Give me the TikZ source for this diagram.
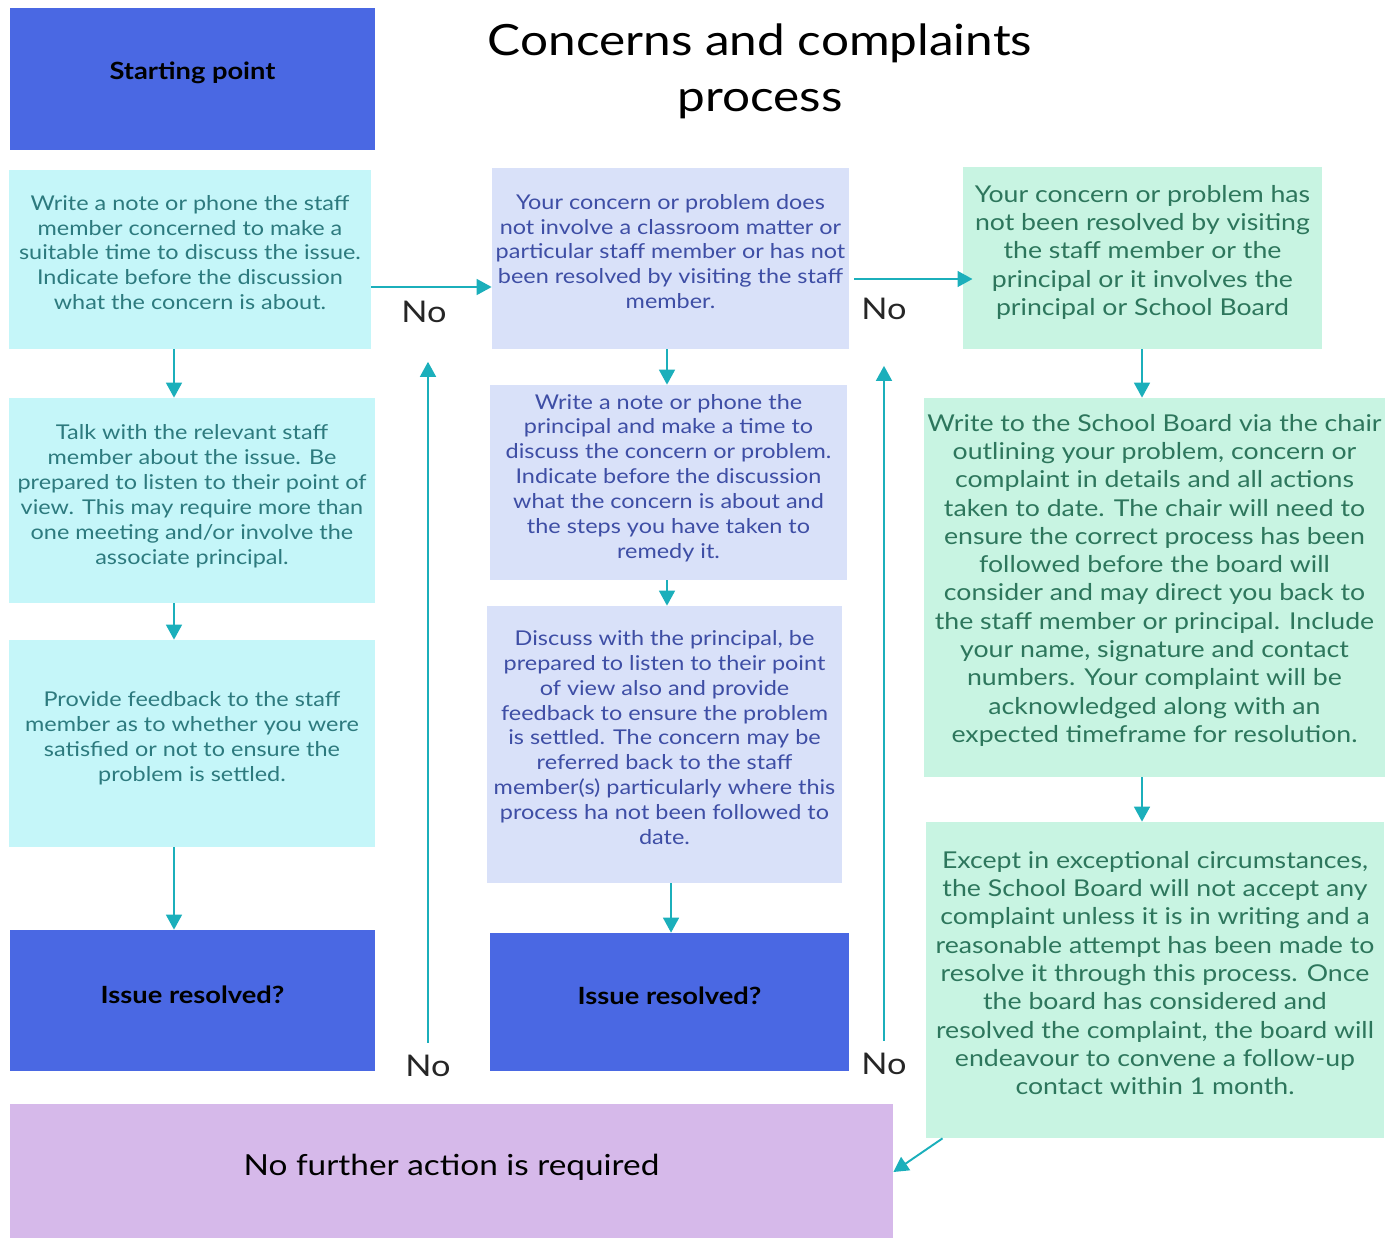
\documentclass[tikz,border=0pt]{standalone}
\usepackage{fontspec}
\setmainfont{Lato}[FakeStretch=1.15]
\usetikzlibrary{arrows.meta}

\definecolor{keyblue}{RGB}{74,104,227}
\definecolor{stepcyan}{RGB}{197,246,249}
\definecolor{steplav}{RGB}{217,225,249}
\definecolor{stepmint}{RGB}{200,244,226}
\definecolor{endpurple}{RGB}{214,185,234}
\definecolor{arrowteal}{RGB}{27,175,187}
\definecolor{tealtext}{RGB}{45,122,126}
\definecolor{lavtext}{RGB}{62,78,165}
\definecolor{minttext}{RGB}{45,118,92}

\def\px{0.02cm}

\tikzset{
  box/.style 2 args={rectangle, inner sep=2pt, align=center, text depth=8pt,
    minimum width=#1*\px, minimum height=#2*\px},
  keybox/.style={fill=keyblue, font=\fontsize{13.5}{16}\selectfont\bfseries},
  colA/.style={fill=stepcyan, text=tealtext, font=\fontsize{11.6}{14.2}\selectfont},
  colB/.style={fill=steplav, text=lavtext, font=\fontsize{11.6}{14.2}\selectfont},
  colC/.style={fill=stepmint, text=minttext, font=\fontsize{13.2}{16.1}\selectfont},
  nolabel/.style={inner sep=0pt, text=black!85, font=\fontsize{17}{19}\selectfont},
  arr/.style={-{Triangle[width=9pt,length=8.5pt]}, line width=1.1pt, draw=arrowteal},
}

\begin{document}
\begin{tikzpicture}[x=0.02cm, y=-0.02cm]
\useasboundingbox (0,0) rectangle (1400,1238);

% title
\node[align=center, font=\fontsize{24.5}{32}\selectfont] (title) at (760,71)
  {Concerns and complaints\\process};

% first column
\node[box={365}{142}, keybox, text depth=9.3pt] (start) at (192.5,79) {Starting point};
\node[box={362}{179}, colA] (a1) at (190,259.5)
  {Write a note or phone the staff\\member concerned to make a\\suitable time to discuss the issue.\\Indicate before the discussion\\what the concern is about.};
\node[box={366}{205}, colA, text depth=7pt] (a2) at (192,500.5)
  {Talk with the relevant staff\\member about the issue. Be\\prepared to listen to their point of\\view. This may require more than\\one meeting and/or involve the\\associate principal.};
\node[box={366}{207}, colA] (a3) at (192,743.5)
  {Provide feedback to the staff\\member as to whether you were\\satisfied or not to ensure the\\problem is settled.};
\node[box={365}{141}, keybox, text depth=7pt] (ira) at (192.5,1000.5) {Issue resolved?};

% second column
\node[box={357}{181}, colB] (b1) at (670.5,258.5)
  {Your concern or problem does\\not involve a classroom matter or\\particular staff member or has not\\been resolved by visiting the staff\\member.};
\node[box={357}{195}, colB, text depth=7pt] (b2) at (668.5,482.5)
  {Write a note or phone the\\principal and make a time to\\discuss the concern or problem.\\Indicate before the discussion\\what the concern is about and\\the steps you have taken to\\remedy it.};
\node[box={355}{277}, colB] (b3) at (664.5,744.5)
  {Discuss with the principal, be\\prepared to listen to their point\\of view also and provide\\feedback to ensure the problem\\is settled. The concern may be\\referred back to the staff\\member(s) particularly where this\\process ha not been followed to\\date.};
\node[box={359}{138}, keybox, text depth=7pt] (irb) at (669.5,1002) {Issue resolved?};

% third column
\node[box={359}{182}, colC, text depth=8.6pt] (c1) at (1142.5,258)
  {Your concern or problem has\\not been resolved by visiting\\the staff member or the\\principal or it involves the\\principal or School Board};
\node[box={459}{379}, colC, text depth=10.5pt] (c2) at (1154.5,587.5)
  {Write to the School Board via the chair\\outlining your problem, concern or\\complaint in details and all actions\\taken to date. The chair will need to\\ensure the correct process has been\\followed before the board will\\consider and may direct you back to\\the staff member or principal. Include\\your name, signature and contact\\numbers. Your complaint will be\\acknowledged along with an\\expected timeframe for resolution.};
\node[box={458}{316}, colC] (c3) at (1155,980)
  {Except in exceptional circumstances,\\the School Board will not accept any\\complaint unless it is in writing and a\\reasonable attempt has been made to\\resolve it through this process. Once\\the board has considered and\\resolved the complaint, the board will\\endeavour to convene a follow-up\\contact within 1 month.};

\node[box={883}{134}, fill=endpurple, font=\fontsize{16.5}{20}\selectfont, text depth=6.7pt] (final) at (451.5,1171)
  {No further action is required};

% No labels
\node[nolabel] (noab) at (424,312) {No};
\node[nolabel] (nobc) at (884,309) {No};
\node[nolabel] (noa) at (428,1066) {No};
\node[nolabel] (nob) at (884,1064) {No};

% connectors
\coordinate (colA) at (174,0);
\coordinate (colB) at (667,0);
\coordinate (colC) at (1142,0);
\coordinate (rowAB) at (0,287);
\coordinate (rowBC) at (0,279);

\draw[arr] (a1.south -| colA) -- (a2.north -| colA);
\draw[arr] (a2.south -| colA) -- (a3.north -| colA);
\draw[arr] (a3.south -| colA) -- (ira.north -| colA);
\draw[arr] (b1.south -| colB) -- (b2.north -| colB);
\draw[arr] (b2.south -| colB) -- (b3.north -| colB);
\draw[arr] ([xshift=2.3pt]b3.south -| colB) -- ([xshift=2.3pt]irb.north -| colB);
\draw[arr] (c1.south -| colC) -- (c2.north -| colC);
\draw[arr] (c2.south -| colC) -- (c3.north -| colC);

\draw[arr] (a1.east |- rowAB) -- (b1.west |- rowAB);
\draw[arr, shorten <=2.8pt, shorten >=-5.6pt] (b1.east |- rowBC) -- (c1.west |- rowBC);
\draw[arr] ([xshift=9.6pt]c3.south west) -- (final.east |- 0,1172);

\draw[arr, shorten <=7pt, shorten >=22pt] (noa.north) -- (noa.north |- noab.south);
\draw[arr, shorten <=7pt, shorten >=26pt] (nob.north) -- (nob.north |- nobc.south);
\end{tikzpicture}
\end{document}
